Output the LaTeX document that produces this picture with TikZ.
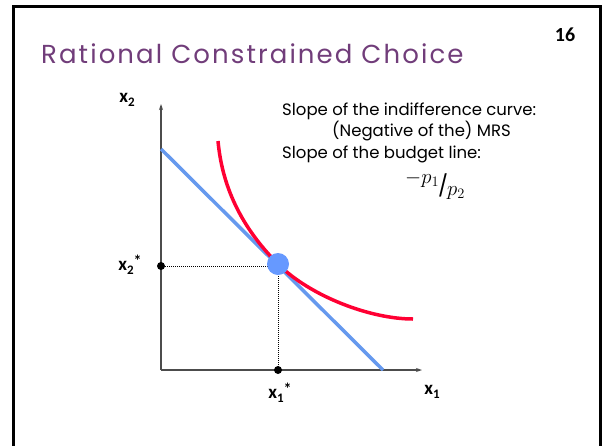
\documentclass[tikz,border=0pt]{standalone}
\usepackage{fontspec}
\setmainfont{Poppins}
\newfontfamily\titlefont[LetterSpace=8]{Poppins}
\newfontfamily\labelfont{Carlito}
\usetikzlibrary{arrows.meta}
\definecolor{titlepurple}{RGB}{113,61,122}
\definecolor{budget}{HTML}{6699EE}
\definecolor{indiff}{HTML}{FF0033}
\definecolor{optimum}{HTML}{6699FF}
\newcommand{\lowidx}[1]{\raisebox{-0.4ex}{\fontsize{13}{13}\selectfont #1}}
\newcommand{\staridx}{\raisebox{0.45ex}{\fontsize{16}{16}\selectfont *}}

\begin{document}
\begin{tikzpicture}[x=1pt,y=-1pt,
  axis/.style={draw=black!70, line width=1.3pt, -{Stealth[length=6pt,width=4pt]}},
  guide/.style={densely dotted, line width=1pt},
  axlabel/.style={font=\labelfont\bfseries\fontsize{19}{20}\selectfont, inner sep=0pt},
  dot/.style={circle, fill=black, inner sep=0pt, minimum size=8pt},
  note/.style={font=\fontsize{16.5}{18}\selectfont, anchor=base west, inner sep=0pt}]
  \useasboundingbox (0,0) rectangle (602,445);
  % slide frame
  \draw[line width=3pt] (13.5,452) -- (13.5,6.5) -- (600.5,6.5) -- (600.5,452);
  \node[anchor=base west, text=titlepurple, font=\titlefont\fontsize{26}{28}\selectfont, inner sep=0pt]
    (title) at (41,63.3) {Rational Constrained Choice};
  \node[font=\labelfont\bfseries\fontsize{20}{24}\selectfont, inner sep=0pt] (page) at (565,35) {16};

  % axes
  \coordinate (O) at (161,370);
  \coordinate (ytop) at (161,104);
  \coordinate (xend) at (422,370);
  \draw[axis] (O) -- (ytop);
  \draw[axis] (O) -- (xend);
  \node[axlabel] (x2) at (127,100) {x\lowidx{2}};
  \node[axlabel] (x1) at (432,392) {x\lowidx{1}};

  % budget line
  \coordinate (bA) at (161,149);
  \coordinate (bB) at (383,370);
  \draw[budget, line width=3.5pt] (bA) -- (bB);

  % optimum and guides
  \coordinate (opt) at (278,264);
  \node[dot] (x2dot) at (161,266) {};
  \node[dot] (x1dot) at (278,370) {};
  \draw[guide] (x2dot.center) -- (opt |- x2dot.center);
  \draw[guide] (opt) -- (x1dot.center);
  \node[axlabel] (x2star) at (130,265) {x\lowidx{2}\staridx};
  \node[axlabel] (x1star) at (280,393) {x\lowidx{1}\staridx};

  % indifference curve
  \coordinate (ic0) at (218,141);
  \coordinate (ic1) at (413,319);
  \draw[indiff, line width=3.5pt] (ic0) .. controls (222,185) and (240,226) .. (opt)
    .. controls (310,296) and (370,319) .. (ic1);
  \node[circle, fill=optimum, inner sep=0pt, minimum size=22pt] (optdot) at (opt) {};

  % slopes
  \node[note] (n1) at (282,115) {Slope of the indifference curve:};
  \node[note] (n2) at (332,136.7) {(Negative of the) MRS};
  \node[note] (n3) at (282,158.5) {Slope of the budget line:};
  \node[anchor=base west, inner sep=0pt, font=\fontsize{21}{22}\selectfont] (n4) at (405,193)
    {\raisebox{10pt}{$-p_1$}\kern-1pt/\kern-1pt\raisebox{-2pt}{$p_2$}};
\end{tikzpicture}
\end{document}
